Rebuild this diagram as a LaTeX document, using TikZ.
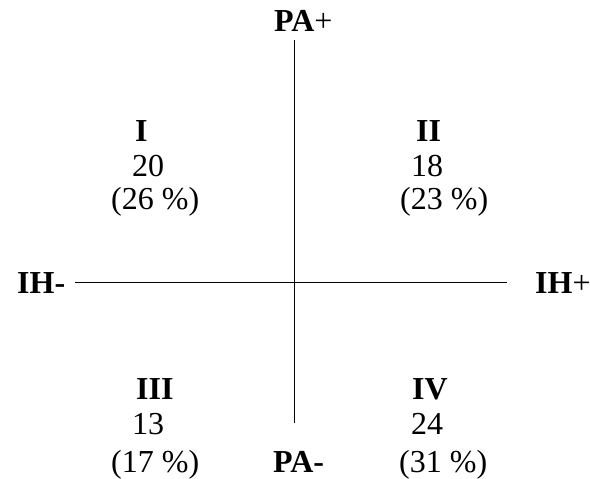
\documentclass[tikz,border=0pt]{standalone}
\usepackage{fontspec}
\setmainfont{Liberation Serif}
\tikzset{
  lbl/.style={anchor=base west,inner sep=0pt,font=\fontsize{32}{38}\selectfont},
  axis/.style={line width=0.9pt}
}
\begin{document}
\begin{tikzpicture}[x=1pt,y=-1pt]
\useasboundingbox (0,0) rectangle (590,479);

\coordinate (top) at (294,40);
\coordinate (bot) at (294,423);
\coordinate (lft) at (75,282);
\coordinate (rgt) at (507,282);
\draw[axis] (top) -- (bot);
\draw[axis] (lft) -- (rgt);

\node[lbl] (pap) at (274,31) {\textbf{PA}+};
\node[lbl] (pam) at (273,472) {\textbf{PA-}};
\node[lbl] (ihm) at (17,293) {\textbf{IH-}};
\node[lbl] (ihp) at (535,293) {\textbf{IH}+};

\node[lbl] (q1) at (135,141) {\textbf{I}};
\node[lbl] (n1) at (132,176) {20};
\node[lbl] (p1) at (111,209) {(26 \%)};

\node[lbl] (q2) at (416,141) {\textbf{II}};
\node[lbl] (n2) at (411,176) {18};
\node[lbl] (p2) at (400,209) {(23 \%)};

\node[lbl] (q3) at (136,399) {\textbf{III}};
\node[lbl] (n3) at (132,434) {13};
\node[lbl] (p3) at (111,472) {(17 \%)};

\node[lbl] (q4) at (412,399) {\textbf{IV}};
\node[lbl] (n4) at (411,434) {24};
\node[lbl] (p4) at (399,472) {(31 \%)};
\end{tikzpicture}
\end{document}
